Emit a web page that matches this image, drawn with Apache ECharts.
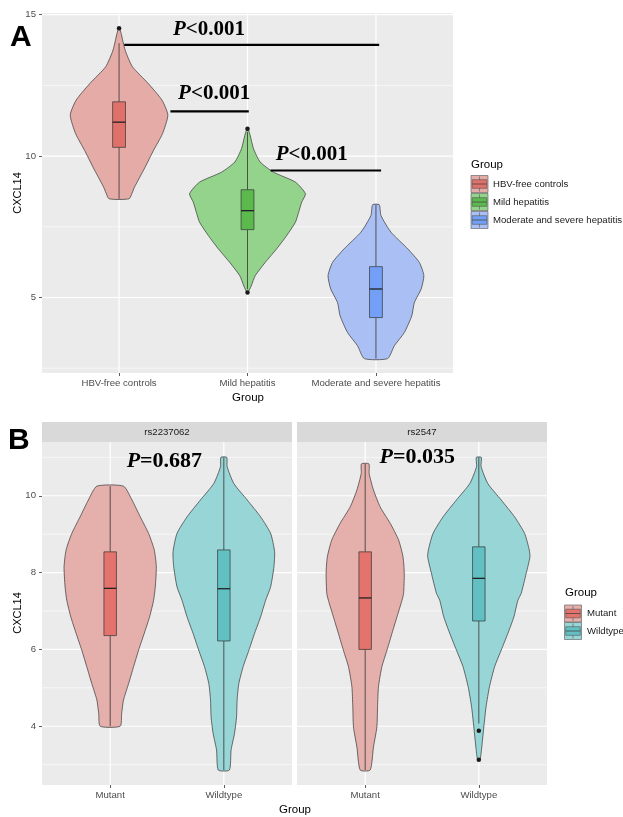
<!DOCTYPE html>
<html><head><meta charset="utf-8">
<script src="https://cdn.jsdelivr.net/npm/echarts@6/dist/echarts.min.js"></script>
<style>html,body{margin:0;padding:0;background:#fff}#c{width:623px;height:817px}</style>
</head><body><div id="c"></div>
<script>
// ================= Panel A data =================
const categoriesA = ['HBV-free controls', 'Mild hepatitis', 'Moderate and severe hepatitis'];
const yTicksA = [5, 10, 15];
const yMinorA = [2.5, 7.5, 12.5];
// violin outlines: y levels and half-widths (in category units)
const violinYHbv = [8.49, 8.70, 8.90, 9.61, 10.20, 10.79, 11.45, 11.98, 12.57, 13.16, 13.75, 14.34, 14.52];
const violinWHbv = [0.078, 0.102, 0.120, 0.203, 0.268, 0.338, 0.380, 0.334, 0.227, 0.104, 0.047, 0.016, 0.004];
const violinYMild = [5.18, 5.41, 5.77, 6.24, 6.72, 7.19, 7.66, 8.01, 8.37, 8.67, 9.08, 9.43, 9.79, 10.26, 10.73, 10.97];
const violinWMild = [0.004, 0.029, 0.060, 0.138, 0.227, 0.305, 0.373, 0.398, 0.422, 0.451, 0.373, 0.203, 0.099, 0.047, 0.021, 0.004];
const violinYMod = [2.84, 3.29, 3.76, 4.35, 4.82, 5.30, 5.77, 6.24, 6.72, 7.31, 7.90, 8.28];
const violinWMod = [0.091, 0.143, 0.221, 0.279, 0.299, 0.352, 0.373, 0.338, 0.248, 0.117, 0.039, 0.026];
// box stats: [lower whisker, Q1, median, Q3, upper whisker]
const boxA = [[8.49, 10.31, 11.20, 11.92, 13.99], [5.30, 7.40, 8.07, 8.81, 10.85], [2.84, 4.29, 5.30, 6.09, 8.28]];
const outliersA = [[1, 14.52], [2, 10.97], [2, 5.18]];
// significance annotations
const pLabelsA = ['<0.001', '<0.001', '<0.001'];
const pLineStartA = [1.04, 1.40, 2.18];
const pLineEndA = [3.025, 2.01, 3.04];
const pLineYA = [13.93, 11.58, 9.49];
const pTextXA = [1.70, 1.74, 2.50];
const pTextYA = [14.49, 12.22, 10.06];

// ================= Panel B data =================
const facetsB = ['rs2237062', 'rs2547'];
const categoriesB = ['Mutant', 'Wildtype'];
const yTicksB = [4, 6, 8, 10];
const yMinorB = [3, 5, 7, 9, 11];
const violinY_r1Mut = [4.00, 4.33, 4.68, 5.11, 5.55, 5.98, 6.42, 6.85, 7.28, 7.63, 8.15, 8.59, 9.02, 9.45, 9.89, 10.25];
const violinW_r1Mut = [0.088, 0.101, 0.117, 0.162, 0.206, 0.250, 0.300, 0.347, 0.382, 0.397, 0.406, 0.388, 0.338, 0.265, 0.192, 0.117];
const violinY_r1Wt = [2.86, 3.38, 3.81, 4.24, 4.68, 5.11, 5.55, 5.98, 6.42, 6.85, 7.28, 7.63, 8.15, 8.54, 9.02, 9.45, 9.89, 10.32, 10.76, 11.00];
const violinW_r1Wt = [0.049, 0.064, 0.094, 0.112, 0.117, 0.132, 0.170, 0.221, 0.271, 0.324, 0.368, 0.412, 0.441, 0.447, 0.412, 0.324, 0.206, 0.088, 0.029, 0.026];
const violinY_r2Mut = [2.86, 3.46, 3.98, 4.51, 5.03, 5.55, 5.98, 6.42, 6.85, 7.28, 7.46, 7.98, 8.41, 8.85, 9.28, 9.71, 10.15, 10.58, 10.83];
const violinW_r2Mut = [0.044, 0.073, 0.103, 0.109, 0.117, 0.147, 0.192, 0.236, 0.280, 0.324, 0.338, 0.344, 0.333, 0.294, 0.221, 0.132, 0.073, 0.035, 0.033];
const violinY_r2Wt = [3.13, 3.46, 3.98, 4.51, 5.03, 5.55, 5.98, 6.42, 6.85, 7.28, 7.46, 7.98, 8.41, 8.59, 9.02, 9.45, 9.89, 10.32, 10.76, 11.00];
const violinW_r2Wt = [0.011, 0.026, 0.044, 0.064, 0.094, 0.139, 0.197, 0.256, 0.309, 0.344, 0.373, 0.417, 0.450, 0.444, 0.403, 0.315, 0.197, 0.079, 0.020, 0.022];
const boxB_r1 = [[4.00, 6.36, 7.59, 8.54, 10.25], [2.86, 6.22, 7.58, 8.59, 11.00]];
const boxB_r2 = [[2.86, 6.00, 7.34, 8.54, 10.83], [4.07, 6.74, 7.85, 8.67, 11.00]];
const outliersB_r1 = [];
const outliersB_r2 = [[2, 3.88], [2, 3.13]];
const pLabelsB = ['=0.687', '=0.035'];
const pTextXB = [1.477, 1.459];
const pTextYB = [10.90, 11.01];

// ================= styling =================
const SANS = '"Liberation Sans", Arial, sans-serif';
const SERIF = '"Liberation Serif", "Times New Roman", serif';
const LINE = '#333333';
const SMALL = 9.6;
const violinFillA = ['#E4ABA7', '#93D38C', '#AAC0F4'];
const boxFillA = ['#E0716A', '#5CB94E', '#73A0F6'];
const violinFillB = ['#E5B0AC', '#97D5D6'];
const boxFillB = ['#E3736C', '#62C0C3'];

function gridSeries(gi, hMajor, hMinor, vMajor, xRef, yRef) {
  const list = [].concat(hMinor.map(v => ({k: 1, v})), hMajor.map(v => ({k: 0, v})), vMajor.map(v => ({k: 2, v})));
  return {
    type: 'custom', xAxisIndex: gi, yAxisIndex: gi, z: 1, silent: true, clip: true,
    data: list.map(d => d.k === 2 ? [d.v, yRef] : [xRef, d.v]),
    renderItem(params, api) {
      const d = list[params.dataIndex];
      const cs = params.coordSys;
      if (d.k === 2) {
        const x = api.coord([api.value(0), api.value(1)])[0];
        return {type: 'line', shape: {x1: x, y1: cs.y, x2: x, y2: cs.y + cs.height}, style: {stroke: '#fff', lineWidth: 1.2}};
      }
      const y = api.coord([api.value(0), api.value(1)])[1];
      return {type: 'line', shape: {x1: cs.x, y1: y, x2: cs.x + cs.width, y2: y}, style: {stroke: '#fff', lineWidth: d.k === 0 ? 1.2 : 0.6}};
    }
  };
}

function violinSeries(gi, items) {
  return {
    type: 'custom', xAxisIndex: gi, yAxisIndex: gi, z: 3, silent: true, clip: true,
    data: items.map(it => [it.x, it.ys[it.ys.length - 1]]),
    renderItem(params, api) {
      const it = items[params.dataIndex];
      const x = api.value(0);
      const pts = [];
      for (let i = 0; i < it.ys.length; i++) pts.push(api.coord([x - it.ws[i], it.ys[i]]));
      for (let i = it.ys.length - 1; i >= 0; i--) pts.push(api.coord([x + it.ws[i], it.ys[i]]));
      return {type: 'polygon', shape: {points: pts, smooth: 0.2}, style: {fill: it.fill, stroke: LINE, lineWidth: 0.7}};
    }
  };
}

function boxSeries(gi, stats, fills, hw) {
  return {
    type: 'custom', xAxisIndex: gi, yAxisIndex: gi, z: 4, silent: true, clip: true,
    data: stats.map((s, i) => [i + 1, s[0], s[1], s[2], s[3], s[4]]),
    renderItem(params, api) {
      const x = api.value(0), wl = api.value(1), q1 = api.value(2), md = api.value(3), q3 = api.value(4), wh = api.value(5);
      const fill = fills[params.dataIndex];
      const a = api.coord([x - hw, q3]), b = api.coord([x + hw, q1]);
      const c = api.coord([x, wh]), d = api.coord([x, q3]), e = api.coord([x, q1]), f = api.coord([x, wl]);
      const m1 = api.coord([x - hw, md]), m2 = api.coord([x + hw, md]);
      return {type: 'group', children: [
        {type: 'line', shape: {x1: c[0], y1: c[1], x2: d[0], y2: d[1]}, style: {stroke: LINE, lineWidth: 0.8}},
        {type: 'line', shape: {x1: e[0], y1: e[1], x2: f[0], y2: f[1]}, style: {stroke: LINE, lineWidth: 0.8}},
        {type: 'rect', shape: {x: a[0], y: a[1], width: b[0] - a[0], height: b[1] - a[1]}, style: {fill, stroke: LINE, lineWidth: 0.7}},
        {type: 'line', shape: {x1: m1[0], y1: m1[1], x2: m2[0], y2: m2[1]}, style: {stroke: '#222', lineWidth: 1.3}}
      ]};
    }
  };
}

function pText(label, size) {
  return {
    text: '{p|P}{n|' + label + '}',
    rich: {
      p: {fontStyle: 'italic', fontWeight: 'bold', fontFamily: SERIF, fontSize: size, fill: '#000'},
      n: {fontWeight: 'bold', fontFamily: SERIF, fontSize: size, fill: '#000'}
    },
    align: 'center', verticalAlign: 'middle'
  };
}

function sigSeriesA() {
  return {
    type: 'custom', xAxisIndex: 0, yAxisIndex: 0, z: 6, silent: true, clip: false,
    data: pLineYA.map((y, i) => [pLineStartA[i], y, pLineEndA[i], pTextXA[i], pTextYA[i]]),
    renderItem(params, api) {
      const i = params.dataIndex;
      const p1 = api.coord([api.value(0), api.value(1)]);
      const p2 = api.coord([api.value(2), api.value(1)]);
      const t = api.coord([api.value(3), api.value(4)]);
      return {type: 'group', children: [
        {type: 'line', shape: {x1: p1[0], y1: p1[1], x2: p2[0], y2: p2[1]}, style: {stroke: '#000', lineWidth: 2.2}},
        {type: 'text', x: t[0], y: t[1], style: pText(pLabelsA[i], 21)}
      ]};
    }
  };
}

function sigSeriesB(gi, idx) {
  return {
    type: 'custom', xAxisIndex: gi, yAxisIndex: gi, z: 6, silent: true, clip: false,
    data: [[pTextXB[idx], pTextYB[idx]]],
    renderItem(params, api) {
      const t = api.coord([api.value(0), api.value(1)]);
      return {type: 'text', x: t[0], y: t[1], style: pText(pLabelsB[idx], 22)};
    }
  };
}

function outlierSeries(gi, pts) {
  return {type: 'scatter', xAxisIndex: gi, yAxisIndex: gi, z: 5, silent: true, data: pts,
    symbolSize: 4.5, itemStyle: {color: '#1A1A1A', opacity: 1}};
}

const tickStyle = {show: true, length: 3, lineStyle: {color: '#333', width: 0.8}};
function xAxisCfg(gi, max, cats) {
  const vals = cats.map((c, i) => i + 1);
  return {gridIndex: gi, type: 'value', min: 0.4, max: max,
    axisLine: {show: false}, splitLine: {show: false},
    axisTick: Object.assign({customValues: vals}, tickStyle),
    axisLabel: {customValues: vals, formatter: v => cats[Math.round(v) - 1], fontSize: SMALL, color: '#4D4D4D', fontFamily: SANS, margin: 5}};
}
function yAxisCfg(gi, min, max, ticks, showLabels) {
  return {gridIndex: gi, type: 'value', min: min, max: max,
    axisLine: {show: false}, splitLine: {show: false},
    axisTick: Object.assign({customValues: ticks}, tickStyle, {show: showLabels}),
    axisLabel: {show: showLabels, customValues: ticks, fontSize: SMALL, color: '#4D4D4D', fontFamily: SANS, margin: 6}};
}

function legendKey(x, y, vFill, bFill) {
  const w = 17, h = 17;
  return [
    {type: 'rect', shape: {x: x, y: y, width: w, height: h}, style: {fill: vFill, stroke: '#555', lineWidth: 0.6}},
    {type: 'line', shape: {x1: x + w / 2, y1: y + 1, x2: x + w / 2, y2: y + h - 1}, style: {stroke: '#555', lineWidth: 0.6}},
    {type: 'rect', shape: {x: x + 1.2, y: y + 4.2, width: w - 2.4, height: h - 8.4}, style: {fill: bFill, stroke: '#555', lineWidth: 0.6}},
    {type: 'line', shape: {x1: x + 1.2, y1: y + h / 2, x2: x + w - 1.2, y2: y + h / 2}, style: {stroke: '#444', lineWidth: 0.8}}
  ];
}
function txt(x, y, text, size, opts) {
  return Object.assign({type: 'text', x: x, y: y, style: Object.assign({text: text, fontSize: size, fontFamily: SANS, fill: '#000', align: 'left', verticalAlign: 'middle'}, opts || {})});
}

const graphics = [];
graphics.push(txt(10, 38, 'A', 30, {fontWeight: 'bold'}));
graphics.push(txt(8, 441, 'B', 30, {fontWeight: 'bold'}));
graphics.push(Object.assign(txt(18, 193, 'CXCL14', 11, {align: 'center'}), {rotation: Math.PI / 2}));
graphics.push(Object.assign(txt(18, 613, 'CXCL14', 11, {align: 'center'}), {rotation: Math.PI / 2}));
graphics.push(txt(248, 398, 'Group', 11.5, {align: 'center'}));
graphics.push(txt(295, 810, 'Group', 11.5, {align: 'center'}));
// strips
graphics.push({type: 'rect', shape: {x: 42, y: 422, width: 250, height: 20}, style: {fill: '#D9D9D9'}});
graphics.push({type: 'rect', shape: {x: 297, y: 422, width: 250, height: 20}, style: {fill: '#D9D9D9'}});
graphics.push(txt(167, 432.5, facetsB[0], SMALL, {align: 'center', fill: '#1A1A1A'}));
graphics.push(txt(422, 432.5, facetsB[1], SMALL, {align: 'center', fill: '#1A1A1A'}));
// legend A
graphics.push(txt(471, 165, 'Group', 11.5));
categoriesA.forEach((c, i) => {
  legendKey(471, 175.5 + i * 18, violinFillA[i], boxFillA[i]).forEach(g => graphics.push(g));
  graphics.push(txt(493, 184 + i * 18, c, SMALL, {fill: '#1A1A1A'}));
});
// legend B
graphics.push(txt(565, 593, 'Group', 11.5));
categoriesB.forEach((c, i) => {
  legendKey(564.5, 605 + i * 17.5, violinFillB[i], boxFillB[i]).forEach(g => graphics.push(g));
  graphics.push(txt(587, 613.5 + i * 17.5, c, SMALL, {fill: '#1A1A1A'}));
});

const option = {
  animation: false,
  backgroundColor: '#fff',
  grid: [
    {left: 42, top: 13, width: 411, height: 360, show: true, backgroundColor: '#EBEBEB', borderWidth: 0},
    {left: 42, top: 442, width: 250, height: 343, show: true, backgroundColor: '#EBEBEB', borderWidth: 0},
    {left: 297, top: 442, width: 250, height: 343, show: true, backgroundColor: '#EBEBEB', borderWidth: 0}
  ],
  xAxis: [xAxisCfg(0, 3.6, categoriesA), xAxisCfg(1, 2.6, categoriesB), xAxisCfg(2, 2.6, categoriesB)],
  yAxis: [yAxisCfg(0, 2.33, 15.06, yTicksA, true), yAxisCfg(1, 2.47, 11.40, yTicksB, true), yAxisCfg(2, 2.47, 11.40, yTicksB, false)],
  series: [
    gridSeries(0, yTicksA, yMinorA, [1, 2, 3], 1, 5),
    gridSeries(1, yTicksB, yMinorB, [1, 2], 1, 5),
    gridSeries(2, yTicksB, yMinorB, [1, 2], 1, 5),
    violinSeries(0, [
      {x: 1, ys: violinYHbv, ws: violinWHbv, fill: violinFillA[0]},
      {x: 2, ys: violinYMild, ws: violinWMild, fill: violinFillA[1]},
      {x: 3, ys: violinYMod, ws: violinWMod, fill: violinFillA[2]}
    ]),
    violinSeries(1, [
      {x: 1, ys: violinY_r1Mut, ws: violinW_r1Mut, fill: violinFillB[0]},
      {x: 2, ys: violinY_r1Wt, ws: violinW_r1Wt, fill: violinFillB[1]}
    ]),
    violinSeries(2, [
      {x: 1, ys: violinY_r2Mut, ws: violinW_r2Mut, fill: violinFillB[0]},
      {x: 2, ys: violinY_r2Wt, ws: violinW_r2Wt, fill: violinFillB[1]}
    ]),
    boxSeries(0, boxA, boxFillA, 0.05),
    boxSeries(1, boxB_r1, boxFillB, 0.055),
    boxSeries(2, boxB_r2, boxFillB, 0.055),
    outlierSeries(0, outliersA),
    outlierSeries(1, outliersB_r1),
    outlierSeries(2, outliersB_r2),
    sigSeriesA(),
    sigSeriesB(1, 0),
    sigSeriesB(2, 1)
  ],
  graphic: graphics
};
const chart = echarts.init(document.getElementById('c'), null, {width: 623, height: 817});
chart.setOption(option);
</script>
</body></html>
